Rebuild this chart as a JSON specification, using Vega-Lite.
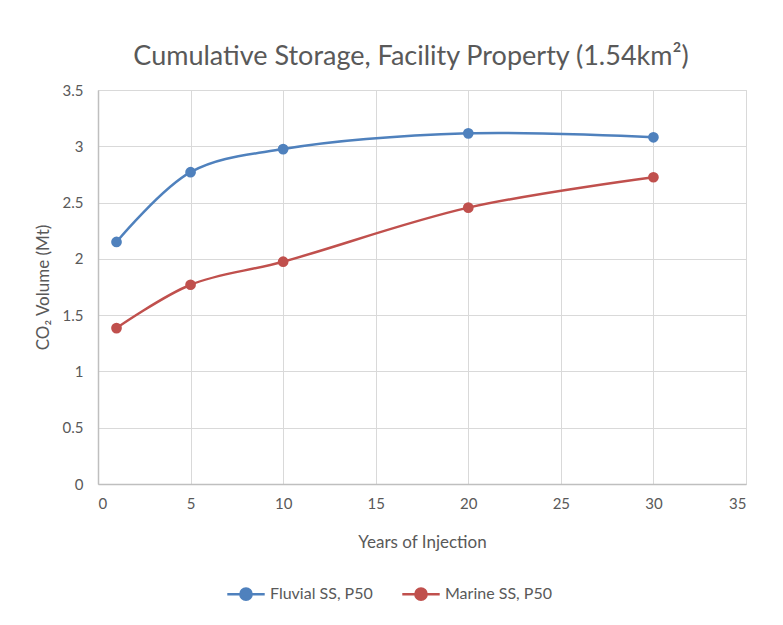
{
  "$schema": "https://vega.github.io/schema/vega-lite/v6.json",
  "width": 648,
  "height": 394,
  "autosize": {"type": "none"},
  "padding": {"left": 98, "top": 90, "right": 37, "bottom": 141},
  "background": "white",
  "title": {
    "text": "Cumulative Storage, Facility Property (1.54km²)",
    "font": "Lato",
    "fontSize": 27,
    "fontWeight": "normal",
    "color": "#595959",
    "anchor": "middle",
    "dx": -11,
    "offset": 12
  },
  "data": {
    "values": [
      {"year": 1, "volume": 2.15, "series": "Fluvial SS, P50"},
      {"year": 5, "volume": 2.77, "series": "Fluvial SS, P50"},
      {"year": 10, "volume": 2.975, "series": "Fluvial SS, P50"},
      {"year": 20, "volume": 3.115, "series": "Fluvial SS, P50"},
      {"year": 30, "volume": 3.08, "series": "Fluvial SS, P50"},
      {"year": 1, "volume": 1.385, "series": "Marine SS, P50"},
      {"year": 5, "volume": 1.77, "series": "Marine SS, P50"},
      {"year": 10, "volume": 1.975, "series": "Marine SS, P50"},
      {"year": 20, "volume": 2.455, "series": "Marine SS, P50"},
      {"year": 30, "volume": 2.725, "series": "Marine SS, P50"}
    ]
  },
  "layer": [
    {
      "mark": {"type": "line", "interpolate": "catmull-rom", "strokeWidth": 2.5},
      "encoding": {
        "x": {"field": "year", "type": "quantitative"},
        "y": {"field": "volume", "type": "quantitative"},
        "color": {"field": "series", "type": "nominal"}
      }
    },
    {
      "mark": {"type": "point", "filled": true, "opacity": 1, "size": 115},
      "encoding": {
        "x": {"field": "year", "type": "quantitative"},
        "y": {"field": "volume", "type": "quantitative"},
        "color": {"field": "series", "type": "nominal"}
      }
    }
  ],
  "encoding": {
    "x": {
      "field": "year",
      "type": "quantitative",
      "scale": {"domain": [0, 35], "nice": false},
      "axis": {
        "title": "Years of Injection",
        "values": [0, 5, 10, 15, 20, 25, 30, 35],
        "titlePadding": 23
      }
    },
    "y": {
      "field": "volume",
      "type": "quantitative",
      "scale": {"domain": [0, 3.5], "nice": false},
      "axis": {
        "title": "CO₂ Volume (Mt)",
        "values": [0, 0.5, 1, 1.5, 2, 2.5, 3, 3.5],
        "format": "~g",
        "labelPadding": 15,
        "titlePadding": 10
      }
    },
    "color": {
      "field": "series",
      "type": "nominal",
      "scale": {"domain": ["Fluvial SS, P50", "Marine SS, P50"], "range": ["#4F81BD", "#C0504D"]},
      "legend": {
        "orient": "none",
        "legendX": 128,
        "legendY": 484,
        "direction": "horizontal",
        "title": null,
        "symbolType": "M-1,0L1,0M-0.3,0A0.3,0.3 0 1,1 0.3,0A0.3,0.3 0 1,1 -0.3,0Z",
        "symbolSize": 1400,
        "symbolStrokeWidth": 2.5,
        "labelOffset": 4,
        "columnPadding": 24,
        "labelFontSize": 16,
        "labelFont": "Lato",
        "labelColor": "#595959",
        "encode": {
          "symbols": {"update": {"fill": {"scale": "color", "field": "value"}, "opacity": {"value": 1}}}
        }
      }
    }
  },
  "config": {
    "view": {"stroke": "#D9D9D9", "strokeWidth": 1},
    "axis": {
      "labelFont": "Lato",
      "titleFont": "Lato",
      "labelFontSize": 15,
      "titleFontSize": 17,
      "titleFontWeight": "normal",
      "labelColor": "#595959",
      "titleColor": "#595959",
      "gridColor": "#D9D9D9",
      "gridWidth": 1,
      "domainColor": "#BFBFBF",
      "domainWidth": 1.5,
      "ticks": false,
      "labelPadding": 12
    }
  }
}
